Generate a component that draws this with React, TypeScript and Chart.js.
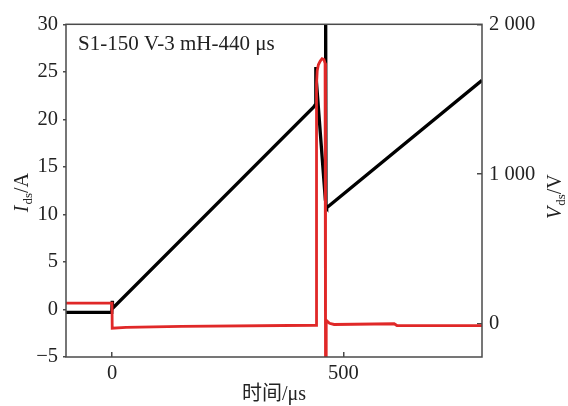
import { useEffect, useRef } from "react";
import { Chart, registerables } from "chart.js";

Chart.register(...registerables);

// Current I_ds (left axis, A) vs time (μs)
const timeI = [-100, -1, 0, 0.5, 436, 440, 440.5, 441, 461, 461.5, 462, 462.5, 464, 800];
const currentI = [-0.3, -0.3, 0.9, 0.1, 21.3, 21.6, 25.5, 24.5, 11.6, 33, 33, 10.8, 10.7, 24.1];

// Voltage V_ds (right axis, V) vs time (μs)
const timeV = [-100, -0.5, 0, 30, 150, 441, 442, 443.5, 446, 450, 454, 458, 460.5, 461.5, 462.5, 463, 470, 480, 610, 616, 800];
const voltageV = [140, 140, -28, -22, -15, -8, 1600, 1690, 1730, 1755, 1770, 1765, 1740, -400, -400, 25, 5, -3, 2, -10, -10];

const leftTicks = [-5, 0, 5, 10, 15, 20, 25, 30];
const xTicks = [0, 500];
const xTickLabels = ["0", "500"];
const rightTicks = [0, 1000, 2000];
const rightTickLabels = ["0", "1 000", "2 000"];

const annotation = "S1-150 V-3 mH-440 μs";
const xTitle = "时间/μs";
const leftTitle = ["I", "ds", "/A"];
const rightTitle = ["V", "ds", "/V"];

const SERIF = '"Liberation Serif", "Noto Sans CJK SC", serif';
const AXIS_COLOR = "#4a4a4a";
const TEXT_COLOR = "#222";
const TICK_SIZE = 20.5;

function drawSubTitle(ctx: CanvasRenderingContext2D, parts: string[], cx: number, cy: number) {
  const mainFont = `italic 20px ${SERIF}`;
  const subFont = `13px ${SERIF}`;
  const restFont = `20px ${SERIF}`;
  ctx.font = mainFont;
  const w1 = ctx.measureText(parts[0]).width;
  ctx.font = subFont;
  const w2 = ctx.measureText(parts[1]).width;
  ctx.font = restFont;
  const w3 = ctx.measureText(parts[2]).width;
  const total = w1 + w2 + w3 + 1;
  ctx.save();
  ctx.translate(cx, cy);
  ctx.rotate(-Math.PI / 2);
  ctx.textAlign = "left";
  ctx.textBaseline = "alphabetic";
  ctx.fillStyle = TEXT_COLOR;
  let x = -total / 2;
  const base = 6;
  ctx.font = mainFont;
  ctx.fillText(parts[0], x, base);
  x += w1 + 1;
  ctx.font = subFont;
  ctx.fillText(parts[1], x, base + 4);
  x += w2;
  ctx.font = restFont;
  ctx.fillText(parts[2], x, base);
  ctx.restore();
}

const textPlugin = {
  id: "customTexts",
  afterDatasetsDraw(chart: any) {
    const { ctx, chartArea: a } = chart;
    ctx.save();
    ctx.strokeStyle = AXIS_COLOR;
    ctx.lineWidth = 1.5;
    ctx.strokeRect(a.left, a.top, a.right - a.left, a.bottom - a.top);
    ctx.restore();
  },
  afterDraw(chart: any) {
    const { ctx, chartArea: a } = chart;
    ctx.save();
    ctx.fillStyle = TEXT_COLOR;
    ctx.font = `21px ${SERIF}`;
    ctx.textAlign = "left";
    ctx.textBaseline = "alphabetic";
    ctx.fillText(annotation, a.left + 12, a.top + 26);

    ctx.font = `20px ${SERIF}`;
    ctx.textAlign = "center";
    ctx.textBaseline = "middle";
    ctx.fillText(xTitle, (a.left + a.right) / 2, 395);
    ctx.restore();

    drawSubTitle(ctx, leftTitle, 22, (a.top + a.bottom) / 2 + 2);
    drawSubTitle(ctx, rightTitle, 555, (a.top + a.bottom) / 2 + 6);
  },
};

export default function App() {
  const canvasRef = useRef<HTMLCanvasElement | null>(null);

  useEffect(() => {
    if (!canvasRef.current) return;
    const chart = new Chart(canvasRef.current, {
      type: "line",
      data: {
        datasets: [
          {
            label: "Vds",
            data: timeV.map((t, i) => ({ x: t, y: voltageV[i] })),
            yAxisID: "y2",
            borderColor: "rgb(224,40,40)",
            borderWidth: 2.8,
            pointRadius: 0,
            tension: 0,
            clip: 0,
          },
          {
            label: "Ids",
            data: timeI.map((t, i) => ({ x: t, y: currentI[i] })),
            yAxisID: "y",
            borderColor: "#000",
            borderWidth: 3.3,
            pointRadius: 0,
            tension: 0,
            clip: 0,
          },
        ],
      },
      options: {
        animation: false,
        responsive: true,
        maintainAspectRatio: false,
        layout: { padding: { top: 22, left: 0, right: 0, bottom: 0 } },
        plugins: {
          legend: { display: false },
          tooltip: { enabled: false },
          title: { display: false },
        },
        scales: {
          x: {
            type: "linear",
            position: "bottom",
            min: -100,
            max: 800,
            afterBuildTicks: (s: any) => {
              s.ticks = xTicks.map((v) => ({ value: v }));
            },
            afterFit: (s: any) => {
              s.height = 49;
            },
            ticks: {
              font: { family: SERIF, size: TICK_SIZE },
              color: TEXT_COLOR,
              padding: 9,
              maxRotation: 0,
              callback: (_v: any, i: number) => xTickLabels[i],
            },
            grid: {
              drawOnChartArea: false,
              tickLength: -5,
              color: AXIS_COLOR,
              lineWidth: 1.5,
            },
            border: { display: false },
          },
          y: {
            type: "linear",
            position: "left",
            min: -5,
            max: 30,
            afterBuildTicks: (s: any) => {
              s.ticks = leftTicks.map((v) => ({ value: v }));
            },
            afterFit: (s: any) => {
              s.width = 66;
            },
            ticks: {
              font: { family: SERIF, size: TICK_SIZE },
              color: TEXT_COLOR,
              padding: 5,
              callback: (v: any) => (v < 0 ? "\u2212" + Math.abs(v) : String(v)),
            },
            grid: {
              drawOnChartArea: false,
              tickLength: 3,
              color: AXIS_COLOR,
              lineWidth: 1.5,
            },
            border: { display: false },
          },
          y2: {
            type: "linear",
            position: "right",
            min: -220,
            max: 2000,
            afterBuildTicks: (s: any) => {
              s.ticks = rightTicks.map((v) => ({ value: v }));
            },
            afterFit: (s: any) => {
              s.width = 86;
            },
            ticks: {
              font: { family: SERIF, size: TICK_SIZE },
              color: TEXT_COLOR,
              padding: 12,
              callback: (_v: any, i: number) => rightTickLabels[i],
            },
            grid: {
              drawOnChartArea: false,
              tickLength: -5,
              color: AXIS_COLOR,
              lineWidth: 1.5,
            },
            border: { display: false },
          },
        },
      },
      plugins: [textPlugin],
    });
    return () => chart.destroy();
  }, []);

  return (
    <div style={{ position: "fixed", left: 0, top: 0, width: 568, height: 406, background: "#fff" }}>
      <canvas ref={canvasRef} />
    </div>
  );
}
